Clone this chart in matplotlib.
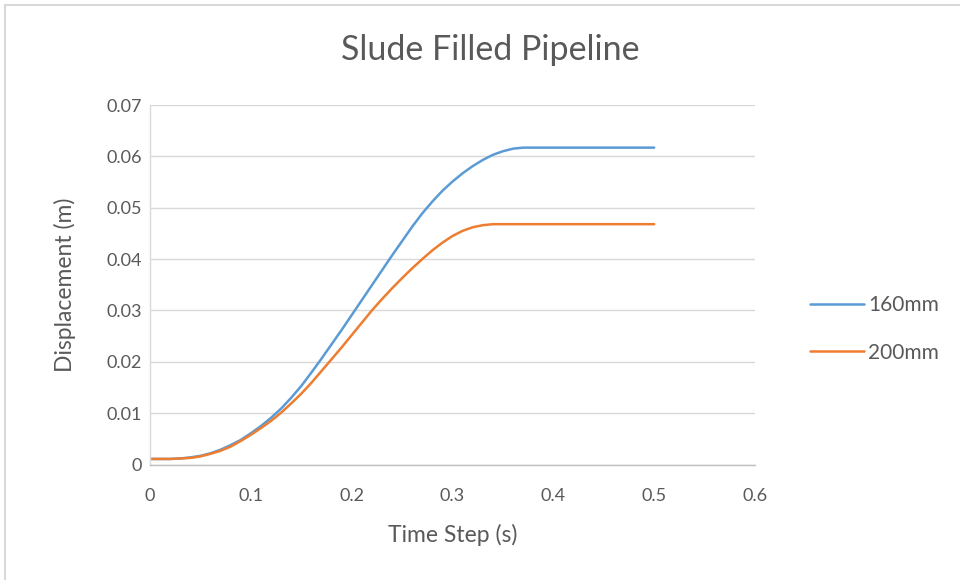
import matplotlib
matplotlib.use("Agg")
import matplotlib.pyplot as plt
from matplotlib.lines import Line2D

# Time steps (s)
time_s = [0.00, 0.01, 0.02, 0.03, 0.04, 0.05, 0.06, 0.07, 0.08, 0.09,
          0.10, 0.11, 0.12, 0.13, 0.14, 0.15, 0.16, 0.17, 0.18, 0.19,
          0.20, 0.21, 0.22, 0.23, 0.24, 0.25, 0.26, 0.27, 0.28, 0.29,
          0.30, 0.31, 0.32, 0.33, 0.34, 0.35, 0.36, 0.37, 0.38, 0.39,
          0.40, 0.42, 0.44, 0.46, 0.48, 0.50]

# Displacement (m) for the 160 mm pipe
disp_160mm = [0.0011, 0.0011, 0.0011, 0.0012, 0.0014, 0.0017, 0.0022, 0.0029, 0.0038, 0.0048,
              0.0061, 0.0075, 0.0091, 0.0109, 0.0130, 0.0153, 0.0179, 0.0206, 0.0234, 0.0262,
              0.0291, 0.0320, 0.0349, 0.0378, 0.0407, 0.0435, 0.0463, 0.0489, 0.0512, 0.0533,
              0.0551, 0.0567, 0.0581, 0.0593, 0.0603, 0.0610, 0.0615, 0.0617, 0.0617, 0.0617,
              0.0617, 0.0617, 0.0617, 0.0617, 0.0617, 0.0617]

# Displacement (m) for the 200 mm pipe
disp_200mm = [0.0011, 0.0011, 0.0011, 0.0012, 0.0013, 0.0016, 0.0021, 0.0027, 0.0035, 0.0046,
              0.0058, 0.0071, 0.0085, 0.0101, 0.0119, 0.0138, 0.0159, 0.0182, 0.0205, 0.0228,
              0.0252, 0.0276, 0.0300, 0.0322, 0.0343, 0.0363, 0.0382, 0.0400, 0.0417, 0.0432,
              0.0445, 0.0455, 0.0462, 0.0466, 0.0468, 0.0468, 0.0468, 0.0468, 0.0468, 0.0468,
              0.0468, 0.0468, 0.0468, 0.0468, 0.0468, 0.0468]

series_labels = ["160mm", "200mm"]
x_ticks = [0, 0.1, 0.2, 0.3, 0.4, 0.5, 0.6]
x_tick_labels = ["0", "0.1", "0.2", "0.3", "0.4", "0.5", "0.6"]
y_ticks = [0, 0.01, 0.02, 0.03, 0.04, 0.05, 0.06, 0.07]
y_tick_labels = ["0", "0.01", "0.02", "0.03", "0.04", "0.05", "0.06", "0.07"]

FONT = ["Lato", "DejaVu Sans"]
TEXT = "#595959"
GRID = "#d9d9d9"

fig = plt.figure(figsize=(9.6, 5.8), dpi=100)
fig.patch.set_facecolor("white")
ax = fig.add_axes([150 / 960, 1 - 464.6 / 580, 605 / 960, 359.6 / 580])

ax.plot(time_s, disp_160mm, color="#5B9BD5", lw=1.8, label=series_labels[0],
        solid_capstyle="round")
ax.plot(time_s, disp_200mm, color="#ED7D31", lw=1.8, label=series_labels[1],
        solid_capstyle="round")

ax.set_xlim(0, 0.6)
ax.set_ylim(0, 0.07)
ax.set_xticks(x_ticks)
ax.set_xticklabels(x_tick_labels)
ax.set_yticks(y_ticks)
ax.set_yticklabels(y_tick_labels)
ax.tick_params(length=0, labelsize=13, labelcolor=TEXT)
ax.tick_params(axis="x", pad=17)
ax.tick_params(axis="y", pad=6)
for lbl in ax.get_xticklabels() + ax.get_yticklabels():
    lbl.set_family(FONT)

ax.grid(axis="y", color=GRID, lw=1)
ax.set_axisbelow(True)
for side in ("top", "right"):
    ax.spines[side].set_visible(False)
ax.spines["bottom"].set_color("#bfbfbf")
ax.spines["left"].set_color(GRID)
ax.spines["bottom"].set_linewidth(1)
ax.spines["left"].set_linewidth(1)

ax.set_xlabel("Time Step (s)", fontsize=16.5, color=TEXT, family=FONT, labelpad=14)
ax.set_ylabel("Displacement (m)", fontsize=16.5, color=TEXT, family=FONT, labelpad=22)

fig.text(490 / 960, 1 - 50 / 580, "Slude Filled Pipeline", ha="center", va="center",
         fontsize=24.5, color=TEXT, family=FONT)

leg = ax.legend(loc="center left", bbox_to_anchor=(810 / 960, 1 - 329 / 580),
                bbox_transform=fig.transFigure, frameon=False, fontsize=15,
                handlelength=2.6, handletextpad=0.2, labelspacing=1.3,
                borderaxespad=0, borderpad=0)
for t in leg.get_texts():
    t.set_color(TEXT)
    t.set_family(FONT)

# Chart-area border on the top and left edges
fig.add_artist(Line2D([5 / 960, 1], [1 - 5 / 580, 1 - 5 / 580],
                      transform=fig.transFigure, color=GRID, lw=1.5))
fig.add_artist(Line2D([5 / 960, 5 / 960], [0, 1 - 5 / 580],
                      transform=fig.transFigure, color=GRID, lw=1.5))

fig.savefig("out.png", dpi=100, facecolor="white")
